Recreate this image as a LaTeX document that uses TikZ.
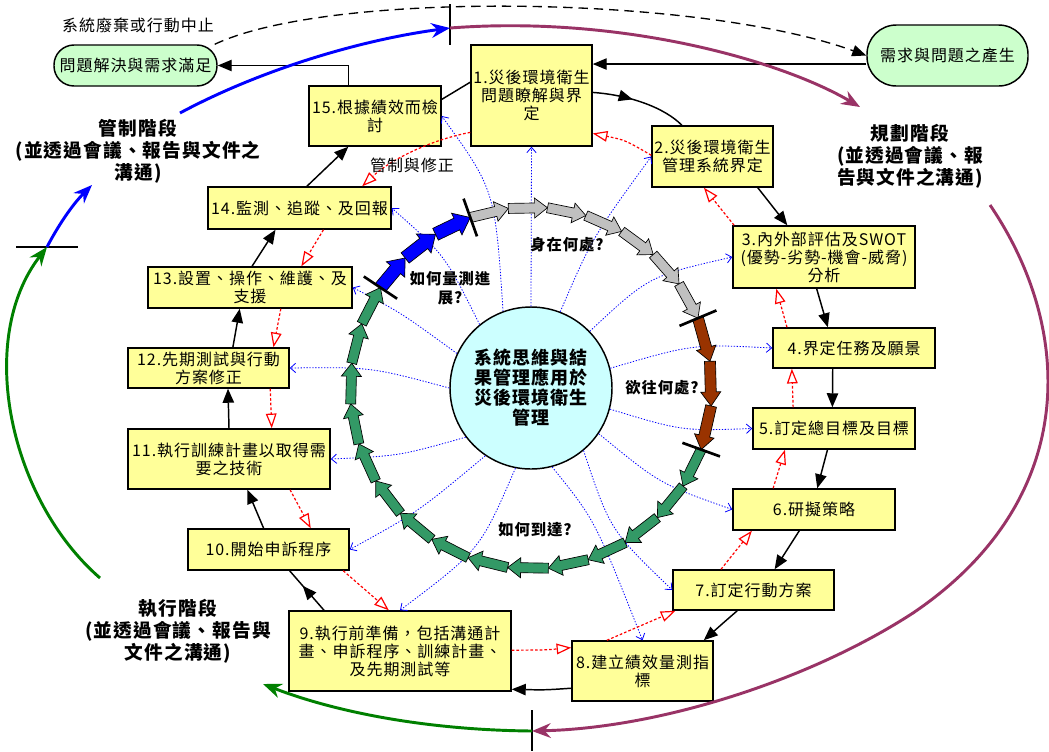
\documentclass[tikz,border=0pt]{standalone}
\usepackage{fontspec}
\setmainfont{Noto Sans CJK TC}[LetterSpace=6]
\usetikzlibrary{calc,arrows.meta,decorations.markings}
\definecolor{boxfill}{RGB}{255,255,153}
\definecolor{pillfill}{RGB}{204,255,204}
\definecolor{hubfill}{RGB}{204,255,255}
\definecolor{purp}{RGB}{153,51,102}
\definecolor{dgreen}{RGB}{0,128,0}
\definecolor{ringgreen}{RGB}{51,153,102}
\definecolor{ringbrown}{RGB}{153,51,0}
\definecolor{ringgray}{RGB}{192,192,192}
\tikzset{
 stepbox/.style={draw=black, line width=1.1pt, fill=boxfill, inner sep=0pt, align=center, font=\fontsize{12}{13.5}\selectfont},
 pill/.style={rectangle, draw=black, line width=1.1pt, fill=pillfill, inner sep=0pt, font=\fontsize{12}{14}\selectfont},
 flow/.style={draw=black, line width=1.1pt, -{Triangle[length=10.5pt,width=8.5pt]}},
 flowmid/.style={draw=black, line width=1.1pt, postaction={decorate}, decoration={markings, mark=at position #1 with {\arrow{Triangle[length=10.5pt,width=8.5pt]}}}},
 back/.style={draw=red, line width=0.9pt, dash pattern=on 2pt off 1.5pt, -{Triangle[open,length=11pt,width=8pt]}},
 probe/.style={draw=blue, line width=0.6pt, dash pattern=on 1pt off 1.2pt, -{Straight Barb[length=4pt,width=7pt]}},
 phase/.style={line width=2.2pt, -{Stealth[length=14pt,width=11pt]}},
 tickmark/.style={draw=black, line width=2pt},
 ringarr/.style={draw=black, line width=0.5pt},
 lbl/.style={font=\fontsize{12}{14}\selectfont, inner sep=0pt},
 phaselbl/.style={font=\bfseries\fontsize{14}{16.5}\selectfont, inner sep=0pt, align=center},
 ringlbl/.style={font=\bfseries\fontsize{11.5}{14.25}\selectfont, inner sep=0pt, align=center}
}
\newcommand\bx[6]{\node[stepbox, minimum width={(#4-#2)*0.75pt}, minimum height={(#5-#3)*0.75pt}] (#1) at ({(#2+#4)/2},{(#3+#5)/2}) {#6};}
\newcommand\ringarrow[6]{%
 \pgfmathsetmacro\rTm{(#1+#2)/2}%
 \pgfmathsetmacro\rH{(#2-#1)/2}%
 \pgfmathsetmacro\rC{181*cos(\rH)}%
 \pgfmathsetmacro\rS{181*sin(\rH)}%
 \pgfmathsetmacro\rUx{cos(\rTm)}%
 \pgfmathsetmacro\rUy{sin(\rTm)}%
 \pgfmathsetmacro\rB{\rS-#6}%
 \filldraw[ringarr,fill=#3]
  ({531+(\rC-#4)*(\rUx)+\rS*(\rUy)},{388+(\rC-#4)*(\rUy)-\rS*(\rUx)}) --
  ({531+(\rC-#4)*(\rUx)-\rB*(\rUy)},{388+(\rC-#4)*(\rUy)+\rB*(\rUx)}) --
  ({531+(\rC-#5)*(\rUx)-\rB*(\rUy)},{388+(\rC-#5)*(\rUy)+\rB*(\rUx)}) --
  ({531+\rC*(\rUx)-\rS*(\rUy)},{388+\rC*(\rUy)+\rS*(\rUx)}) --
  ({531+(\rC+#5)*(\rUx)-\rB*(\rUy)},{388+(\rC+#5)*(\rUy)+\rB*(\rUx)}) --
  ({531+(\rC+#4)*(\rUx)-\rB*(\rUy)},{388+(\rC+#4)*(\rUy)+\rB*(\rUx)}) --
  ({531+(\rC+#4)*(\rUx)+\rS*(\rUy)},{388+(\rC+#4)*(\rUy)-\rS*(\rUx)}) -- cycle;
}
\begin{document}
\begin{tikzpicture}[x=0.75pt,y=-0.75pt]
\useasboundingbox (0,0) rectangle (1049,751);
\fill[white] (0,0) rectangle (1049,751);
\clip (0,0) rectangle (1049,751);

% ---- nodes ----
\bx{b1}{471}{45}{592}{146}{1.災後環境衛生\\問題瞭解與界\\定}
\bx{b2}{652}{126}{773}{187}{2.災後環境衛生\\管理系統界定}
\bx{b3}{733}{226}{915}{288}{3.內外部評估及SWOT\\(優勢-劣勢-機會-威脅)\\分析}
\bx{b4}{773}{328}{935}{368}{4.界定任務及願景}
\bx{b5}{753}{408}{915}{449}{5.訂定總目標及目標}
\bx{b6}{733}{489}{895}{530}{6.研擬策略}
\bx{b7}{673}{570}{834}{610}{7.訂定行動方案}
\bx{b8}{572}{641}{713}{701}{8.建立績效量測指\\標}
\bx{b9}{289}{611}{511}{691}{9.執行前準備，包括溝通計\\畫、申訴程序、訓練計畫、\\及先期測試等}
\bx{b10}{188}{529}{349}{570}{10.開始申訴程序}
\bx{b11}{128}{429}{330}{489}{11.執行訓練計畫以取得需\\要之技術}
\bx{b12}{128}{348}{289}{388}{12.先期測試與行動\\方案修正}
\bx{b13}{148}{267}{352}{308}{13.設置、操作、維護、及\\支援}
\bx{b14}{208}{187}{391}{229}{14.監測、追蹤、及回報}
\bx{b15}{309}{86}{441}{146}{15.根據績效而檢\\討}
\node[pill, rounded corners=15pt, minimum width=163*0.75pt, minimum height=41*0.75pt] (pL) at (135.5,65.5) {問題解決與需求滿足};
\node[pill, rounded corners=22pt, minimum width=161*0.75pt, minimum height=61*0.75pt] (pR) at (947.5,55.5) {需求與問題之產生};
\node[circle, draw=black, line width=1.1pt, fill=hubfill, minimum size=162*0.75pt, inner sep=0pt, align=center, font=\bfseries\fontsize{13.5}{15}\selectfont] (hub) at (531,388) {系統思維與結\\果管理應用於\\災後環境衛生\\管理};

% ---- blue probes ----
\draw[probe] (hub.90) -- (b1.south);
\draw[probe] (hub.69) .. controls (592,238) .. (b2.west);
\draw[probe] (hub.44) .. controls (649,276) .. (b3.west);
\draw[probe] (hub.14) .. controls (693,344) .. (b4.west);
\draw[probe] (hub.345) .. controls (682,431) .. (b5.west);
\draw[probe] (hub.326) .. controls (660,484) .. (b6.west);
\draw[probe] (hub.310) .. controls (610,530) .. (b7.west);
\draw[probe] (hub.285) .. controls (595,520) .. (b8.north);
\draw[probe] (hub.259) .. controls (480,550) .. (b9.north);
\draw[probe] (hub.236) .. controls (418,512) .. (b10.east);
\draw[probe] (hub.217) .. controls (399,456) .. (b11.east);
\draw[probe] (hub.180) .. controls (371,367) .. (b12.east);
\draw[probe] (hub.155) .. controls (400,312) .. (b13.east);
\draw[probe] (hub.129) .. controls (445,255) .. (b14.east);
\draw[probe] (hub.110) .. controls (495,190) .. (b15.east);

% ---- ring of arrows ----
\foreach \k in {0,...,6}{
  \pgfmathsetmacro\ra{-109.6+\k*86.9/7}
  \pgfmathsetmacro\rb{-109.6+(\k+1)*86.9/7}
  \ringarrow{\ra}{\rb}{ringgray}{5}{10}{13}
}
\foreach \k in {0,...,2}{
  \pgfmathsetmacro\ra{-22.7+\k*42.6/3}
  \pgfmathsetmacro\rb{-22.7+(\k+1)*42.6/3}
  \ringarrow{\ra}{\rb}{ringbrown}{5.5}{10}{14}
}
\foreach \k in {0,...,14}{
  \pgfmathsetmacro\ra{19.9+\k*193.8/15}
  \pgfmathsetmacro\rb{19.9+(\k+1)*193.8/15}
  \ringarrow{\ra}{\rb}{ringgreen}{5}{10}{13}
}
\foreach \k in {0,...,2}{
  \pgfmathsetmacro\ra{213.7+\k*36.7/3}
  \pgfmathsetmacro\rb{213.7+(\k+1)*36.7/3}
  \ringarrow{\ra}{\rb}{blue}{6.5}{12}{15}
}
\foreach \t in {-109.6,-22.7,19.9,213.7}{
  \draw[tickmark,shift={(531,388)}] (\t:161) -- (\t:201);
}

% ---- black cycle ----
\draw[flowmid=0.42] ($(b1.north east)!0.47!(b1.south east)$) .. controls (630,95) and (665,108) .. ($(b2.north west)!0.25!(b2.north east)$);
\draw[flow] ($(b2.south west)!0.87!(b2.south east)$) -- ($(b3.north west)!0.30!(b3.north east)$);
\draw[flow] ($(b3.south west)!0.46!(b3.south east)$) -- ($(b4.north west)!0.34!(b4.north east)$);
\draw[flow] ($(b4.south west)!0.37!(b4.south east)$) -- ($(b5.north west)!0.49!(b5.north east)$);
\draw[flow] ($(b5.south west)!0.46!(b5.south east)$) -- ($(b6.north west)!0.52!(b6.north east)$);
\draw[flow] ($(b6.south west)!0.41!(b6.south east)$) -- ($(b7.north west)!0.63!(b7.north east)$);
\draw[flow] ($(b7.south west)!0.40!(b7.south east)$) .. controls (722,624) .. ($(b8.north west)!0.93!(b8.north east)$);
\draw[flow] ($(b8.north west)!0.78!(b8.south west)$) .. controls (545,690) .. ($(b9.north east)!0.97!(b9.south east)$);
\draw[flowmid=0.62] ($(b9.north west)!0.16!(b9.north east)$) -- ($(b10.south west)!0.63!(b10.south east)$);
\draw[flow] ($(b10.north west)!0.47!(b10.north east)$) -- ($(b11.south west)!0.59!(b11.south east)$);
\draw[flow] ($(b11.north west)!0.50!(b11.north east)$) -- ($(b12.south west)!0.62!(b12.south east)$);
\draw[flow] ($(b12.north west)!0.65!(b12.north east)$) -- ($(b13.south west)!0.45!(b13.south east)$);
\draw[flow] ($(b13.north west)!0.51!(b13.north east)$) -- ($(b14.south west)!0.37!(b14.south east)$);
\draw[flow] ($(b14.north west)!0.54!(b14.north east)$) -- ($(b15.south west)!0.30!(b15.south east)$);
\draw[line width=1.1pt] ($(b15.north east)!0.23!(b15.south east)$) -- ($(b1.north west)!0.37!(b1.south west)$);
\draw[flow] ($(b15.north west)!0.30!(b15.north east)$) |- (pL.east);
\draw[flow] (pR.186) -- (pR.186 -| b1.east);
\draw[flow, line width=1pt, dash pattern=on 7pt off 4.5pt] (pL.15) .. controls (330,-10) and (700,-5) .. (pR.west);

% ---- red feedback ----
\draw[back] ($(b2.north west)!0.48!(b2.south west)$) .. controls (625,140) .. ($(b1.north east)!0.87!(b1.south east)$);
\draw[back] ($(b3.north west)!0.01!(b3.north east)$) -- ($(b2.south west)!0.43!(b2.south east)$);
\draw[back] ($(b4.north west)!0.09!(b4.north east)$) -- ($(b3.south west)!0.24!(b3.south east)$);
\draw[back] ($(b5.north west)!0.25!(b5.north east)$) -- ($(b4.south west)!0.12!(b4.south east)$);
\draw[back] ($(b6.north west)!0.25!(b6.north east)$) -- ($(b5.south west)!0.20!(b5.south east)$);
\draw[back] ($(b7.north west)!0.30!(b7.north east)$) -- ($(b6.south west)!0.12!(b6.south east)$);
\draw[back] ($(b8.north west)!0.25!(b8.north east)$) -- ($(b7.south west)!0.02!(b7.south east)$);
\draw[back] ($(b9.north east)!0.49!(b9.south east)$) .. controls (545,650) .. ($(b8.north west)!0.12!(b8.south west)$);
\draw[back] ($(b10.south west)!0.96!(b10.south east)$) -- ($(b9.north west)!0.45!(b9.north east)$);
\draw[back] ($(b11.south west)!0.80!(b11.south east)$) -- ($(b10.north west)!0.76!(b10.north east)$);
\draw[back] ($(b12.south west)!0.88!(b12.south east)$) -- ($(b11.north west)!0.71!(b11.north east)$);
\draw[back] ($(b13.south west)!0.65!(b13.south east)$) -- ($(b12.north west)!0.90!(b12.north east)$);
\draw[back] ($(b14.south west)!0.63!(b14.south east)$) -- ($(b13.north west)!0.75!(b13.north east)$);
\draw[back] ($(b1.north west)!0.86!(b1.south west)$) .. controls (430,140) and (390,160) .. ($(b14.north west)!0.84!(b14.north east)$);

% ---- phase curves ----
\coordinate (tL) at (47,247);
\coordinate (tT) at (450,28);
\coordinate (tB) at (532,731);
\draw[tickmark] (16,247) -- (78,247);
\draw[tickmark] (450,4) -- (450,45);
\draw[tickmark] (532,710) -- (532,751);
\draw[phase, blue] (tL) .. controls (58,226) and (72,205) .. (92,185);
\draw[phase, blue] (180,113) .. controls (260,70) and (360,40) .. (tT);
\draw[phase, purp] (tT) .. controls (620,15) and (780,60) .. (860,107);
\draw[phase, purp] (990,205) .. controls (1075,330) and (1080,500) .. (913,613) .. controls (810,680) and (660,728) .. (tB);
\draw[phase, dgreen] (tB) .. controls (420,730) and (330,710) .. (263,684);
\draw[phase, dgreen] (100,578) .. controls (10,500) and (-25,340) .. (tL);

% ---- labels ----
\node[lbl] (lStop) at (138,25) {系統廢棄或行動中止};
\node[lbl] (lCtl) at (412,165) {管制與修正};
\node[phaselbl] (phC) at (138,151) {管制階段\\(並透過會議、報告與文件之\\溝通)};
\node[phaselbl] (phP) at (910,156) {規劃階段\\(並透過會議、報\\告與文件之溝通)};
\node[phaselbl] (phE) at (178,631) {執行階段\\(並透過會議、報告與\\文件之溝通)};
\node[ringlbl] (q1) at (567,245) {身在何處?};
\node[ringlbl] (q2) at (662,388) {欲往何處?};
\node[ringlbl] (q3) at (535,530) {如何到達?};
\node[ringlbl] (q4) at (450,288) {如何量測進\\展?};
\end{tikzpicture}
\end{document}
